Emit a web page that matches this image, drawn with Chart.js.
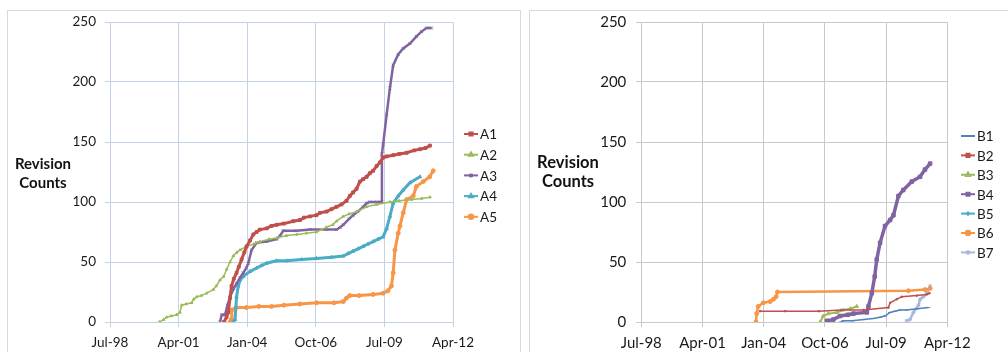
<!DOCTYPE html>
<html>
<head>
<meta charset="utf-8">
<script src="https://cdn.jsdelivr.net/npm/chart.js@4/dist/chart.umd.min.js"></script>
<style>
  body { margin: 0; width: 1008px; height: 352px; overflow: hidden; background: #fff; position: relative; font-family: Lato, "Open Sans", sans-serif; }
  .panel { position: absolute; border: 1px solid #d9d9d9; box-sizing: border-box; }
  canvas { position: absolute; top: 0; }
  .ytitle { position: absolute; font-weight: bold; text-align: center; color: #111; transform: translateX(-50%); white-space: nowrap; }
</style>
</head>
<body>
<div class="panel" style="left:7px; top:10px; width:514px; height:360px;"></div>
<div class="panel" style="left:529px; top:10px; width:500px; height:360px;"></div>
<canvas id="chartA" width="520" height="352" style="left:0"></canvas>
<canvas id="chartB" width="488" height="352" style="left:520px"></canvas>
<div class="ytitle" style="left:43px; top:154px; font-size:15px; line-height:19px;">Revision<br>Counts</div>
<div class="ytitle" style="left:568px; top:153px; font-size:16.5px; line-height:19px;">Revision<br>Counts</div>
<script>
// x axis: Excel date serials, 1000-day steps
const X_MIN = 36000;
const X_MAX = 41000;
const X_STEP = 1000;
const X_TICK_LABELS = ["Jul-98", "Apr-01", "Jan-04", "Oct-06", "Jul-09", "Apr-12"];
const Y_MAX = 250;
const Y_STEP = 50;

// [decimal year, revision count]
const A1 = [[2003.11,0],[2003.21,4],[2003.28,8],[2003.35,20],[2003.41,30],[2003.5,36],[2003.61,41],[2003.7,46],[2003.81,52],[2003.92,58],[2004.01,63],[2004.15,68],[2004.28,73],[2004.41,75],[2004.54,77],[2004.81,78],[2005.0,80],[2005.21,81],[2005.5,82],[2005.87,84],[2006.14,85],[2006.3,87],[2006.54,88],[2006.8,89],[2006.94,91],[2007.2,92],[2007.4,94],[2007.6,96],[2007.8,98],[2008.0,101],[2008.13,105],[2008.26,108],[2008.4,111],[2008.53,117],[2008.66,119],[2008.8,121],[2008.93,124],[2009.06,126],[2009.2,130],[2009.33,133],[2009.46,137],[2009.6,138],[2009.86,139],[2010.1,140],[2010.4,141],[2010.7,143],[2010.93,144],[2011.15,145],[2011.33,147]];
const A2 = [[2000.53,0],[2000.7,2],[2000.82,4],[2001.0,5],[2001.22,6],[2001.35,8],[2001.42,14],[2001.6,15],[2001.82,16],[2001.9,19],[2002.02,21],[2002.2,22],[2002.42,24],[2002.68,27],[2002.8,30],[2002.95,35],[2003.1,38],[2003.22,44],[2003.35,50],[2003.48,55],[2003.62,58],[2003.75,60],[2004.01,63],[2004.3,65],[2004.54,67],[2004.9,69],[2005.21,70],[2005.6,72],[2006.01,73],[2006.4,74],[2006.8,75],[2007.0,77],[2007.2,79],[2007.45,81],[2007.6,84],[2007.87,88],[2008.1,90],[2008.4,92],[2008.8,96],[2009.2,98],[2009.73,100],[2010.1,101],[2010.6,102],[2011.0,103],[2011.33,104]];
const A3 = [[2002.95,0],[2003.02,6],[2003.15,6],[2003.25,14],[2003.35,21],[2003.5,28],[2003.61,32],[2003.75,37],[2003.88,41],[2004.0,45],[2004.08,49],[2004.21,60],[2004.41,66],[2004.81,67],[2005.21,69],[2005.35,72],[2005.47,76],[2006.0,76],[2006.54,77],[2007.2,77],[2007.6,77],[2007.75,79],[2007.87,81],[2008.1,86],[2008.26,89],[2008.45,92],[2008.66,96],[2008.8,99],[2008.93,100],[2009.2,100],[2009.4,100],[2009.41,140],[2009.46,148],[2009.6,173],[2009.73,195],[2009.86,214],[2010.06,223],[2010.26,228],[2010.53,232],[2010.79,238],[2010.99,242],[2011.19,245],[2011.39,245]];
const A4 = [[2003.48,0],[2003.55,2],[2003.61,21],[2003.68,30],[2003.75,35],[2003.88,38],[2004.14,42],[2004.41,45],[2004.6,47],[2004.81,49],[2005.2,51],[2005.61,51],[2006.2,52],[2006.8,53],[2007.4,54],[2007.87,55],[2008.06,57],[2008.26,59],[2008.46,61],[2008.66,63],[2008.86,65],[2009.06,67],[2009.26,69],[2009.46,71],[2009.6,78],[2009.73,88],[2009.86,99],[2010.06,105],[2010.26,110],[2010.53,116],[2010.93,121]];
const A5 = [[2003.35,0],[2003.4,2],[2003.42,10],[2003.6,12],[2004.0,12],[2004.5,13],[2005.0,13],[2005.5,14],[2006.14,15],[2006.8,16],[2007.5,16],[2007.87,17],[2008.0,20],[2008.13,22],[2008.5,22],[2009.06,23],[2009.46,24],[2009.65,26],[2009.79,30],[2009.86,41],[2009.93,60],[2010.06,74],[2010.13,80],[2010.26,91],[2010.4,102],[2010.66,105],[2010.79,113],[2011.06,117],[2011.32,121],[2011.46,126]];

const B1 = [[2007.48,0],[2007.6,1],[2008.0,1],[2008.5,2],[2008.94,3],[2009.24,4],[2009.46,5],[2009.69,8],[2009.9,9],[2010.13,10],[2010.43,10],[2010.9,11],[2011.4,12]];
const B2 = [[2003.87,9],[2005.0,9],[2006.5,9],[2007.5,10],[2008.5,10],[2009.61,12],[2009.69,16],[2009.99,19],[2010.21,21],[2010.88,22],[2011.33,23],[2011.45,24]];
const B3 = [[2006.56,0],[2006.7,5],[2006.93,7],[2007.3,8],[2007.6,10],[2007.9,11],[2008.2,13]];
const B4 = [[2006.86,1],[2007.15,2],[2007.45,5],[2007.8,6],[2008.05,7],[2008.65,8],[2008.72,13],[2008.87,24],[2009.0,38],[2009.09,52],[2009.24,66],[2009.46,80],[2009.69,85],[2009.84,89],[2010.06,105],[2010.28,110],[2010.66,117],[2011.03,121],[2011.25,127],[2011.48,132]];
const B5 = [];
const B6 = [[2003.69,0],[2003.72,7],[2003.79,13],[2004.02,16],[2004.32,17],[2004.47,19],[2004.59,21],[2004.65,25],[2010.51,26],[2011.25,27],[2011.48,28]];
const B7 = [[2010.43,1],[2010.58,2],[2010.73,8],[2010.96,14],[2011.03,19],[2011.18,21],[2011.33,24],[2011.48,30]];

function yearToSerial(y) {
    const yr = Math.floor(y);
    const start = Date.UTC(yr, 0, 1);
    const end = Date.UTC(yr + 1, 0, 1);
    return (start + (y - yr) * (end - start)) / 86400000 + 25569;
}

function toPoints(rows) {
    return rows.map(([yr, v]) => ({ x: yearToSerial(yr), y: v }));
}

function series(label, rows, color, style, width, radius) {
    return {
        label,
        data: toPoints(rows),
        borderColor: color,
        backgroundColor: color,
        borderWidth: width,
        pointStyle: style,
        pointRadius: radius,
        pointBorderWidth: 1,
        pointHoverRadius: radius,
        tension: 0,
        fill: false,
    };
}

// Excel style legend: short line + marker, beside the plot
const sideLegend = {
    id: "sideLegend",
    afterDraw(chart, args, opts) {
        const ctx = chart.ctx;
        ctx.save();
        ctx.font = opts.font;
        ctx.textBaseline = "middle";
        chart.data.datasets.forEach((ds, i) => {
            const x = chart.chartArea.right + opts.offset;
            const y = opts.top + i * opts.spacing;
            ctx.strokeStyle = ds.borderColor;
            ctx.fillStyle = ds.borderColor;
            ctx.lineWidth = 2;
            ctx.beginPath();
            ctx.moveTo(x, y);
            ctx.lineTo(x + 14, y);
            ctx.stroke();
            Chart.helpers.drawPoint(ctx, { pointStyle: ds.pointStyle, radius: 2.2, borderWidth: 1, rotation: 0 }, x + 7, y);
            ctx.fillStyle = "#1a1a1a";
            ctx.fillText(ds.label, x + 16, y + 1);
        });
        ctx.restore();
    },
};

function makeChart(id, datasets, o) {
    return new Chart(document.getElementById(id), {
        type: "line",
        data: { datasets },
        plugins: [sideLegend],
        options: {
            responsive: false,
            animation: false,
            layout: { padding: { left: 0, right: o.padRight, top: 22, bottom: 0 } },
            plugins: {
                legend: { display: false },
                tooltip: { enabled: false },
                sideLegend: { font: "13.5px Lato", top: o.legendTop, spacing: o.legendSpacing, offset: o.legendOffset },
            },
            scales: {
                x: {
                    type: "linear",
                    min: X_MIN,
                    max: X_MAX,
                    afterFit: (s) => { s.height = 30; },
                    grid: { color: o.grid, tickLength: 5 },
                    border: { color: o.grid },
                    ticks: {
                        stepSize: X_STEP,
                        color: "#1a1a1a",
                        font: { family: "Lato", size: o.fontSize },
                        padding: o.xPad,
                        maxRotation: 0,
                        callback: (v, i) => X_TICK_LABELS[i],
                    },
                },
                y: {
                    min: 0,
                    max: Y_MAX,
                    afterFit: (s) => { s.width = o.axisLeft; },
                    grid: { color: o.grid, tickLength: 5 },
                    border: { color: o.grid },
                    ticks: {
                        stepSize: Y_STEP,
                        color: "#1a1a1a",
                        font: { family: "Lato", size: o.fontSize },
                        padding: o.yPad,
                    },
                },
            },
        },
    });
}

makeChart("chartA", [
    series("A1", A1, "#C0504D", "rect", 3, 2),
    series("A2", A2, "#9BBB59", "triangle", 1.5, 1.5),
    series("A3", A3, "#8064A2", "crossRot", 2.5, 2),
    series("A4", A4, "#4BACC6", "triangle", 3, 2),
    series("A5", A5, "#F79646", "circle", 3, 2),
], { padRight: 67, axisLeft: 110, grid: "#c3d3e5", fontSize: 13.5, xPad: 8, yPad: 9, legendTop: 134, legendSpacing: 20.7, legendOffset: 11 });

makeChart("chartB", [
    series("B1", B1, "#4F81BD", "line", 1.5, 2),
    series("B2", B2, "#C0504D", "rect", 1.5, 1),
    series("B3", B3, "#9BBB59", "triangle", 2, 2),
    series("B4", B4, "#8064A2", "rect", 3.5, 2.5),
    series("B5", B5, "#4BACC6", "cross", 2, 2),
    series("B6", B6, "#F79646", "circle", 2.5, 2),
    series("B7", B7, "#A5B9DA", "star", 2.5, 2),
], { padRight: 60.7, axisLeft: 121.3, grid: "#c9c9c9", fontSize: 15, xPad: 7, yPad: 10, legendTop: 136, legendSpacing: 19.4, legendOffset: 13.7 });
</script>
</body>
</html>
